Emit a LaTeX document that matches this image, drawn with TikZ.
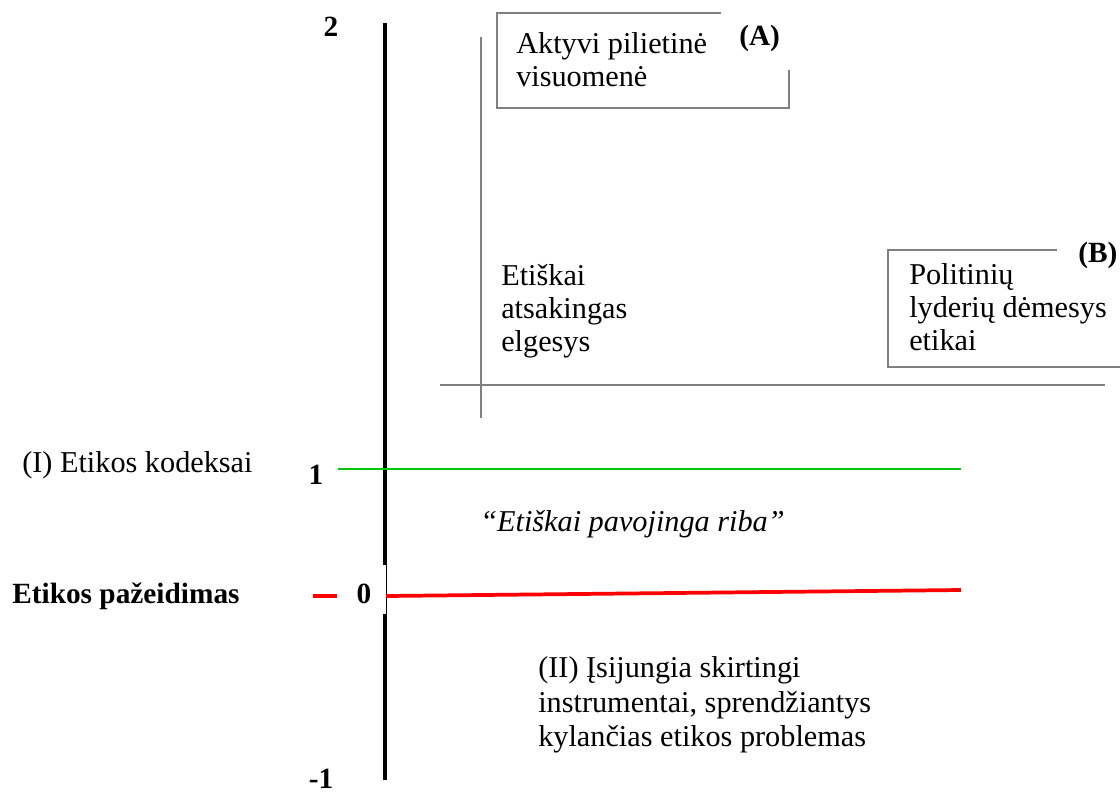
\documentclass[tikz,border=0pt]{standalone}
\usepackage{fontspec}
\setmainfont{Liberation Serif}
\begin{document}
\begin{tikzpicture}[x=0.75pt,y=-0.75pt,
  lbl/.style={inner sep=0pt,anchor=base west,font=\fontsize{22.7}{26}\selectfont},
  blbl/.style={inner sep=0pt,anchor=base west,font=\fontsize{22}{26}\selectfont\bfseries},
  num/.style={inner sep=0pt,anchor=base,font=\fontsize{22}{26}\selectfont\bfseries},
  grayline/.style={draw={rgb,255:red,128;green,128;blue,128},line width=1.4pt}]
\useasboundingbox (0,0) rectangle (1120,797);
% axis
\coordinate (ax2) at (385,23);
\coordinate (axg1) at (385,565);
\coordinate (axg2) at (385,614);
\coordinate (axm1) at (385,780);
\draw[line width=2.6pt] (ax2) -- (axg1);
\draw[line width=2.6pt] (axg2) -- (axm1);
\coordinate (thin1) at (386.5,565);
\coordinate (thin2) at (386.5,614);
\draw[line width=0.9pt] (thin1) -- (thin2);
% numbers
\node[num] (n2) at (331,36) {2};
\node[num] (n1) at (316,484) {1};
\node[num] (n0) at (364,603) {0};
\node[num] (nm1) at (321,788) {-1};
% gray cross
\coordinate (v1) at (481,37);
\coordinate (v2) at (481,418);
\coordinate (h1) at (440,385);
\coordinate (h2) at (1105,385);
\draw[grayline] (v1) -- (v2);
\draw[grayline] (h1) -- (h2);
% box A
\coordinate (a1) at (721,13);
\coordinate (a2) at (497,13);
\coordinate (a3) at (497,108);
\coordinate (a4) at (789,108);
\coordinate (a5) at (789,70);
\draw[grayline] (a1) -- (a2) -- (a3) -- (a4) -- (a5);
\node[lbl] (ta1) at (516,53) {Aktyvi pilietinė};
\node[lbl] (ta2) at (516,86) {visuomenė};
\node[blbl] (la) at (739,45) {(A)};
% box B
\coordinate (b1) at (1057,250);
\coordinate (b2) at (888,250);
\coordinate (b3) at (888,367);
\coordinate (b4) at (1122,367);
\draw[grayline] (b1) -- (b2) -- (b3) -- (b4);
\node[lbl] (tb1) at (909,284) {Politinių};
\node[lbl] (tb2) at (909,317) {lyderių dėmesys};
\node[lbl] (tb3) at (909,350) {etikai};
\node[blbl] (lb) at (1078,262) {(B)};
% middle text
\node[lbl] (te1) at (501,285) {Etiškai};
\node[lbl] (te2) at (501,318) {atsakingas};
\node[lbl] (te3) at (501,351) {elgesys};
% green line
\coordinate (g1) at (338,469);
\coordinate (g2) at (961,469);
\draw[draw={rgb,255:red,0;green,200;blue,0},line width=1.1pt] (g1) -- (g2);
\node[lbl] (ti) at (22,472) {(I) Etikos kodeksai};
\node[lbl,font=\fontsize{22.7}{26}\selectfont\itshape] (tp) at (480,531) {“Etiškai pavojinga riba”};
% red line
\coordinate (r1) at (386,596);
\coordinate (r2) at (961,590);
\draw[red,line width=2.8pt] (r1) -- (r2);
\coordinate (rd1) at (313,596);
\coordinate (rd2) at (337,596);
\draw[red,line width=2.8pt] (rd1) -- (rd2);
\node[blbl] (tv) at (12,603) {Etikos pažeidimas};
\node[lbl] (tii1) at (538,677) {(II) Įsijungia skirtingi};
\node[lbl] (tii2) at (538,712) {instrumentai, sprendžiantys};
\node[lbl] (tii3) at (538,746) {kylančias etikos problemas};
\end{tikzpicture}
\end{document}
